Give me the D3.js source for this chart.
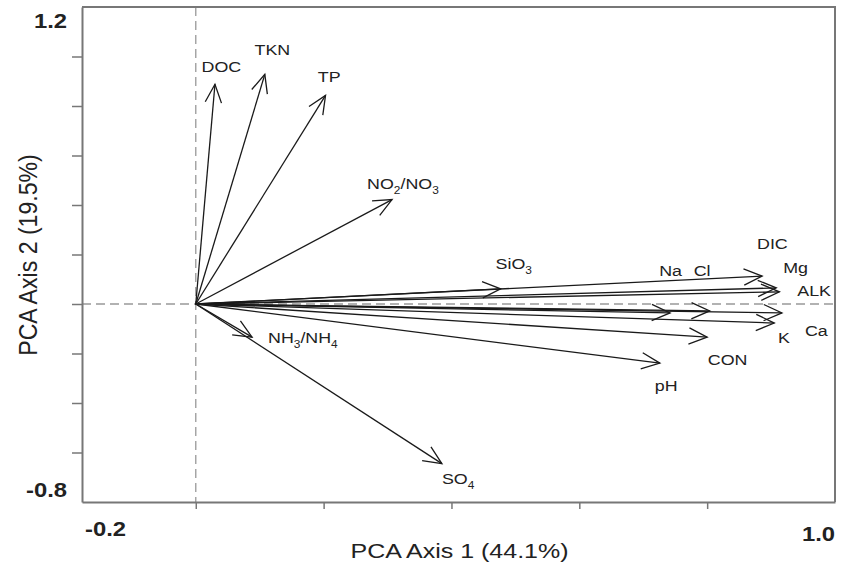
<!DOCTYPE html>
<html>
<head>
<meta charset="utf-8">
<script src="https://cdn.jsdelivr.net/npm/d3@7"></script>
<style>
body { margin: 0; background: #fff; }
text { font-family: "Liberation Sans", Arial, sans-serif; fill: #222; }
</style>
</head>
<body>
<div id="main"></div>
<script>

// arrow names, tips (PCA loadings) and label anchors
var names = ["DOC","TKN","TP","NO2/NO3","SiO3","NH3/NH4","SO4","DIC","Mg","ALK","Na","Cl","Ca","K","CON","pH"]
var axis1 = [0.030, 0.108, 0.203, 0.307, 0.477, 0.088, 0.385, 0.886, 0.908, 0.913, 0.742, 0.804, 0.917, 0.905, 0.800, 0.726]
var axis2 = [0.888, 0.928, 0.843, 0.422, 0.061, -0.134, -0.645, 0.113, 0.065, 0.049, -0.036, -0.028, -0.036, -0.077, -0.134, -0.239]
// label text: [main, sub] pieces
var labelParts = [
  [["DOC",0]], [["TKN",0]], [["TP",0]],
  [["NO",0],["2",1],["/NO",0],["3",1]],
  [["SiO",0],["3",1]],
  [["NH",0],["3",1],["/NH",0],["4",1]],
  [["SO",0],["4",1]],
  [["DIC",0]], [["Mg",0]], [["ALK",0]], [["Na",0]], [["Cl",0]],
  [["Ca",0]], [["K",0]], [["CON",0]], [["pH",0]]
]
var labelX = [0.009, 0.092, 0.191, 0.268, 0.469, 0.113, 0.385, 0.878, 0.919, 0.941, 0.725, 0.779, 0.953, 0.911, 0.801, 0.718]
var labelY = [0.957, 1.026, 0.916, 0.486, 0.162, -0.138, -0.709, 0.243, 0.146, 0.053, 0.134, 0.134, -0.109, -0.138, -0.227, -0.332]

var xTicks = [0, 0.2, 0.4, 0.6, 0.8]
var yTicks = [1.0, 0.8, 0.6, 0.4, 0.2, 0, -0.2, -0.4, -0.6]
var xTitle = "PCA Axis 1 (44.1%)"
var yTitle = "PCA Axis 2 (19.5%)"

var data = names.map((n,i)=> ({name:n, x:axis1[i], y:axis2[i], lx:labelX[i], ly:labelY[i], parts:labelParts[i]}))

var W = 847, H = 565
var pLeft = 82, pRight = 835, pTop = 7, pBottom = 502
var stretch = 1.19

var svg = d3.select('#main')
  .append('svg')
  .attr("width", W)
  .attr("height", H)

var x = d3.scaleLinear().domain([-0.178, 1.0]).range([pLeft, pRight])
var y = d3.scaleLinear().domain([-0.8, 1.2]).range([pBottom, pTop])

var gray = "#777"

// dashed zero lines
svg.append('line')
  .attr("x1", x(0)).attr("x2", x(0))
  .attr("y1", pTop).attr("y2", pBottom)
  .style("stroke", "#999").style("stroke-width", 1.3)
  .style("stroke-dasharray", "9,5")
svg.append('line')
  .attr("x1", pLeft).attr("x2", pRight)
  .attr("y1", y(0)).attr("y2", y(0))
  .style("stroke", "#999").style("stroke-width", 1.3)
  .style("stroke-dasharray", "9,5")

// axes with ticks only
svg.append('g')
  .attr('transform', 'translate(0,' + pBottom + ')')
  .call(d3.axisBottom(x).tickValues(xTicks).tickFormat("").tickSize(7).tickSizeOuter(0))
svg.append('g')
  .attr('transform', 'translate(' + pLeft + ',0)')
  .call(d3.axisLeft(y).tickValues(yTicks).tickFormat("").tickSize(10).tickSizeOuter(0))
svg.selectAll('.domain').style("stroke", gray).style("stroke-width", 2)
svg.selectAll('.tick line').style("stroke", gray).style("stroke-width", 1.5)

// top and right frame
svg.append('path')
  .attr("d", "M" + pLeft + "," + pTop + "H" + pRight + "V" + pBottom)
  .style("fill", "none").style("stroke", gray).style("stroke-width", 2)

// arrows
var arrows = svg.append('g')
arrows.selectAll('line')
  .data(data)
  .enter()
  .append('line')
  .attr("x1", x(0)).attr("y1", y(0))
  .attr("x2", d=> x(d.x)).attr("y2", d=> y(d.y))
  .style("stroke", "#1a1a1a")
  .style("stroke-width", 1.3)

var headLen = 20, headAng = 24 * Math.PI / 180
arrows.selectAll('path')
  .data(data)
  .enter()
  .append('path')
  .attr("d", d=> {
    var tx = x(d.x), ty = y(d.y)
    var a = Math.atan2(y(0) - ty, x(0) - tx)
    var p1 = [tx + headLen*Math.cos(a+headAng), ty + headLen*Math.sin(a+headAng)]
    var p2 = [tx + headLen*Math.cos(a-headAng), ty + headLen*Math.sin(a-headAng)]
    return "M" + p1 + "L" + tx + "," + ty + "L" + p2
  })
  .style("fill", "none")
  .style("stroke", "#1a1a1a")
  .style("stroke-width", 1.3)

// labels
var labels = svg.append('g').selectAll('text')
  .data(data)
  .enter()
  .append('text')
  .attr('transform', d=> 'translate(' + x(d.lx) + ',' + (y(d.ly) + 5) + ')scale(' + stretch + ',1)')
  .style("font-size", "15px")

labels.selectAll('tspan')
  .data(d=> d.parts)
  .enter()
  .append('tspan')
  .text(p=> p[0])
  .style("font-size", p=> p[1] ? "10px" : "15px")
  .attr("dy", (p,i,nodes)=> {
    var prev = i > 0 ? d3.select(nodes[i-1]).datum()[1] : 0
    return (p[1] - prev) * 5
  })

// corner tick labels
function corner(t, px, py, anchor) {
  svg.append('text')
    .text(t)
    .attr('transform', 'translate(' + px + ',' + py + ')scale(' + stretch + ',1)')
    .attr('text-anchor', anchor)
    .style("font-size", "20px")
    .style("font-weight", "bold")
}
corner("1.2", 67, 28, "end")
corner("-0.8", 67, 497, "end")
corner("-0.2", 85, 536, "start")
corner("1.0", 835, 541, "end")

// axis titles
svg.append('text')
  .text(xTitle)
  .attr('transform', 'translate(' + ((pLeft + pRight) / 2 + 1) + ',558)scale(' + stretch + ',1)')
  .attr('text-anchor', 'middle')
  .style("font-size", "21px")

svg.append('text')
  .text(yTitle)
  .attr('transform', 'translate(37,255)rotate(-90)scale(1.1,' + stretch + ')')
  .attr('text-anchor', 'middle')
  .style("font-size", "21px")

</script>
</body>
</html>
